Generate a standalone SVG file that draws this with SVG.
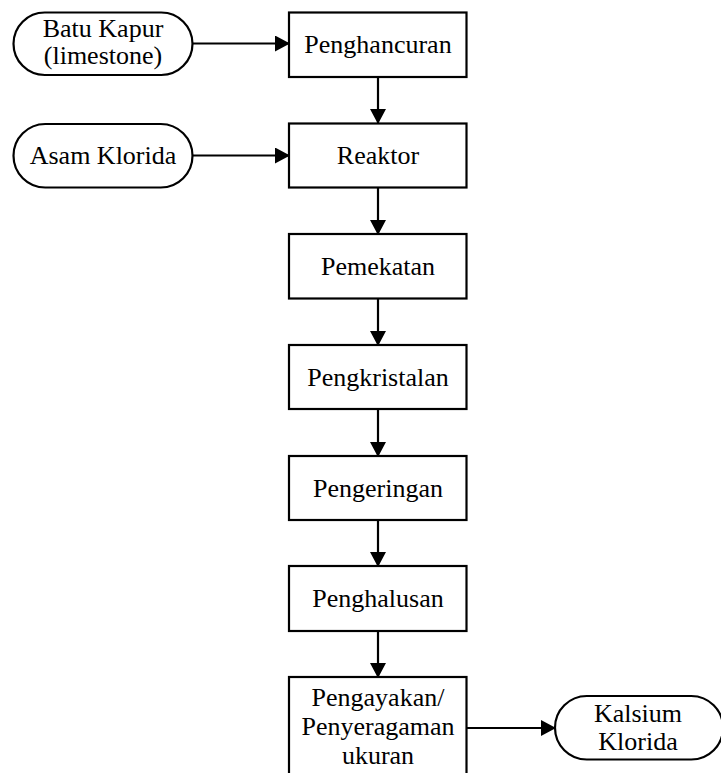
<svg xmlns="http://www.w3.org/2000/svg" width="721" height="773" viewBox="0 0 721 773">
<style>
.box{fill:#fff;stroke:#000;stroke-width:2.2}
.t{font-family:"Liberation Serif",serif;font-size:26px;fill:#000;text-anchor:middle}
.c{stroke:#000;stroke-width:2.2;fill:none}
</style>
<defs>
<marker id="ah" markerWidth="15" markerHeight="16" refX="14" refY="8" orient="auto" markerUnits="userSpaceOnUse">
<path d="M0,0 L15,8 L0,16 Z" fill="#000"/>
</marker>
</defs>
<g id="connectors">
<line class="c" x1="192" y1="43.5" x2="289" y2="43.5" marker-end="url(#ah)"/>
<line class="c" x1="192" y1="155.5" x2="289" y2="155.5" marker-end="url(#ah)"/>
<line class="c" x1="378" y1="77" x2="378" y2="123" marker-end="url(#ah)"/>
<line class="c" x1="378" y1="187.5" x2="378" y2="234" marker-end="url(#ah)"/>
<line class="c" x1="378" y1="298.5" x2="378" y2="345" marker-end="url(#ah)"/>
<line class="c" x1="378" y1="409" x2="378" y2="456" marker-end="url(#ah)"/>
<line class="c" x1="378" y1="520" x2="378" y2="566" marker-end="url(#ah)"/>
<line class="c" x1="378" y1="631" x2="378" y2="677" marker-end="url(#ah)"/>
<line class="c" x1="466.5" y1="728" x2="555" y2="728" marker-end="url(#ah)"/>
</g>
<g id="batu-kapur">
<rect class="box" x="13.5" y="12.5" width="179" height="62.5" rx="31.25"/>
<text class="t" x="103" y="36.5">Batu Kapur</text>
<text class="t" x="103" y="64">(limestone)</text>
</g>
<g id="asam-klorida">
<rect class="box" x="13.5" y="124" width="179" height="63.5" rx="31.75"/>
<text class="t" x="103" y="164">Asam Klorida</text>
</g>
<g id="penghancuran">
<rect class="box" x="289" y="12.5" width="177.5" height="64.5"/>
<text class="t" x="378" y="53.3">Penghancuran</text>
</g>
<g id="reaktor">
<rect class="box" x="289" y="123.5" width="177.5" height="64"/>
<text class="t" x="378" y="164">Reaktor</text>
</g>
<g id="pemekatan">
<rect class="box" x="289" y="234" width="177.5" height="64.5"/>
<text class="t" x="378" y="275">Pemekatan</text>
</g>
<g id="pengkristalan">
<rect class="box" x="289" y="345" width="177.5" height="64"/>
<text class="t" x="378" y="386">Pengkristalan</text>
</g>
<g id="pengeringan">
<rect class="box" x="289" y="456" width="177.5" height="64"/>
<text class="t" x="378" y="497">Pengeringan</text>
</g>
<g id="penghalusan">
<rect class="box" x="289" y="566" width="177.5" height="65"/>
<text class="t" x="378" y="607">Penghalusan</text>
</g>
<g id="pengayakan">
<rect class="box" x="289" y="677" width="177.5" height="110"/>
<text class="t" x="378" y="706">Pengayakan/</text>
<text class="t" x="378" y="735">Penyeragaman</text>
<text class="t" x="378" y="764">ukuran</text>
</g>
<g id="kalsium-klorida">
<rect class="box" x="555" y="696" width="168" height="63.5" rx="31.75"/>
<text class="t" x="638" y="721.5">Kalsium</text>
<text class="t" x="638" y="750">Klorida</text>
</g>
</svg>
